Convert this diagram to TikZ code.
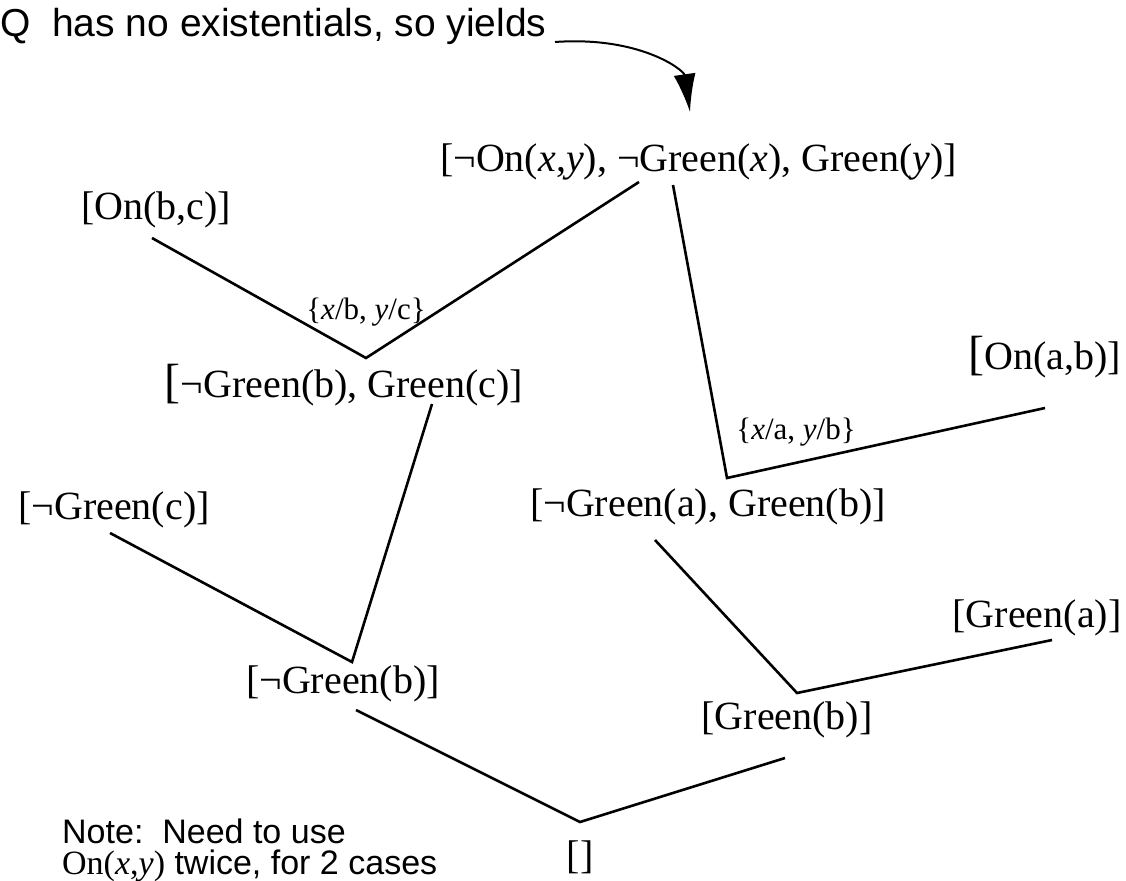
\documentclass[tikz,border=0pt]{standalone}
\usepackage{fontspec}
\setmainfont{Liberation Serif}
\newfontfamily\helv{Liberation Sans}
\usetikzlibrary{arrows.meta}
\newcommand{\bigbr}{{\fontsize{48}{52}\selectfont[}}
\begin{document}
\begin{tikzpicture}[x=1pt,y=-1pt,
  clause/.style={inner sep=0pt, font=\fontsize{40}{46}\selectfont},
  subst/.style={inner sep=0pt, font=\fontsize{31}{35}\selectfont},
  sans/.style={inner sep=0pt, anchor=base west, font=\helv\fontsize{39}{42}\selectfont},
  notetext/.style={inner sep=0pt, anchor=base west, align=left, font=\helv\fontsize{34}{31}\selectfont},
  link/.style={line width=2.6pt, line join=miter},
  pointer/.style={line width=2pt, -{Latex[length=38pt,width=22pt]}}]
\useasboundingbox (0,0) rectangle (1126,880);

% texts
\node[sans] (title) at (0,37) {Q\ \ has no existentials, so yields};
\node[clause, anchor=west] (top) at (440,162) {[¬On(\textit{x},\textit{y}), ¬Green(\textit{x}), Green(\textit{y})]};
\node[clause] (onbc) at (156,210) {[On(b,c)]};
\node[subst] (s1) at (366,312) {\{\textit{x}/b, \textit{y}/c\}};
\node[clause] (gbgc) at (344,385) {\bigbr¬Green(b), Green(c)]};
\node[clause] (onab) at (1045,357) {\bigbr On(a,b)]};
\node[subst] (s2) at (796,432) {\{\textit{x}/a, \textit{y}/b\}};
\node[clause] (gagb) at (708,507) {[¬Green(a), Green(b)]};
\node[clause] (ngc) at (114,510) {[¬Green(c)]};
\node[clause] (ngb) at (343,684) {[¬Green(b)]};
\node[clause] (ga) at (1037,618) {[Green(a)]};
\node[clause] (gb) at (787,720) {[Green(b)]};
\node[clause] (empty) at (580,857) {[]};
\node[notetext] (note) at (62,874) {Note:\ \ Need to use\\{\rmfamily On(\textit{x},\textit{y})} twice, for 2 cases};

% pointer arrow
\coordinate (astart) at (555,42);
\coordinate (aend) at (690,112);
\draw[pointer] (astart) .. controls (640,36) and (684,70) .. (aend);

% resolution tree links
\coordinate (p1) at (152,238);
\coordinate (v1) at (366,358);
\coordinate (q1) at (639,182);
\draw[link] (p1) -- (v1) -- (q1);

\coordinate (p2) at (673,185);
\coordinate (v2) at (727,478);
\coordinate (q2) at (1045,408);
\draw[link] (p2) -- (v2) -- (q2);

\coordinate (p3) at (110,533);
\coordinate (v3) at (352,662);
\coordinate (q3) at (432,404);
\draw[link] (p3) -- (v3) -- (q3);

\coordinate (p4) at (655,540);
\coordinate (v4) at (797,693);
\coordinate (q4) at (1052,640);
\draw[link] (p4) -- (v4) -- (q4);

\coordinate (p5) at (356,710);
\coordinate (v5) at (580,822);
\coordinate (q5) at (785,758);
\draw[link] (p5) -- (v5) -- (q5);
\end{tikzpicture}
\end{document}
